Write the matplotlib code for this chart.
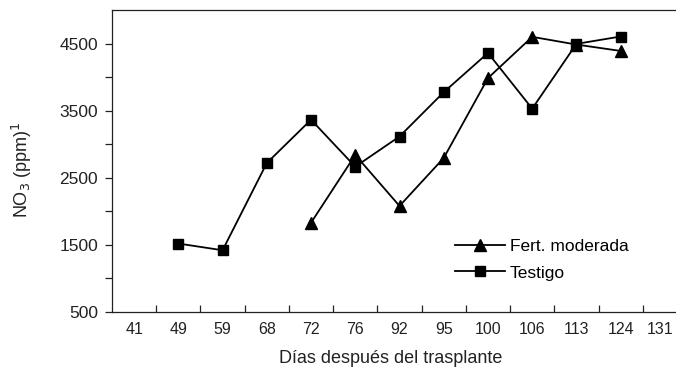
import numpy as np
import matplotlib
matplotlib.use('Agg')
import matplotlib.pyplot as plt
import matplotlib.transforms as mtransforms

plt.rcParams['font.family'] = ['Liberation Sans', 'DejaVu Sans']

# categories on the x axis (days after transplant)
days = ['41', '49', '59', '68', '72', '76', '92', '95', '100', '106', '113', '124', '131']

# NO3 values (None = no point)
testigo = [None, 1520, 1420, 2720, 3365, 2665, 3115, 3775, 4360, 3530, 4495, 4605, None]
fert_moderada = [None, None, None, None, 1830, 2840, 2080, 2795, 3985, 4600, 4485, 4390, None]

ink = '#222222'

def to_array(vals):
    return np.array([np.nan if v is None else v for v in vals], dtype=float)

fig = plt.figure(figsize=(6.76, 3.70), dpi=100)
# right edge of the axes runs past the figure, as in the original
ax = fig.add_axes([112 / 676, 58 / 370, 575 / 676, 302 / 370])

x = np.arange(len(days))
ax.plot(x, to_array(fert_moderada), color='black', lw=1.3, marker='^', ms=8,
        label='Fert. moderada')
ax.plot(x, to_array(testigo), color='black', lw=1.3, marker='s', ms=7,
        label='Testigo')

ax.set_xlim(-0.5, len(days) - 0.5)
ax.set_ylim(500, 5000)

# x: ticks between categories, labels at category centres
ax.set_xticks(np.arange(0.5, len(days) - 1, 1.0))
ax.set_xticklabels([])
ax.set_xticks(x, minor=True)
ax.set_xticklabels(days, minor=True)
ax.tick_params(axis='x', which='major', direction='in', length=5, width=0.9, color=ink)
ax.tick_params(axis='x', which='minor', length=0, pad=7, labelsize=11.5, labelcolor=ink)
# last label sits at the figure edge; nudge it left so it stays whole
last = ax.get_xticklabels(minor=True)[-1]
last.set_transform(last.get_transform() +
                   mtransforms.ScaledTranslation(-5 / 100, 0, fig.dpi_scale_trans))

# y: labelled every 1000, unlabelled ticks between
ax.set_yticks(np.arange(500, 4501, 1000))
ax.set_yticks(np.arange(1000, 4501, 1000), minor=True)
ax.tick_params(axis='y', which='both', direction='out', length=5, width=0.9, color=ink,
               labelsize=12.5, labelcolor=ink, pad=5)

for side in ['left', 'bottom', 'top']:
    ax.spines[side].set_color(ink)
    ax.spines[side].set_linewidth(0.9)
ax.spines['right'].set_visible(False)

ax.set_xlabel('Días después del trasplante', fontsize=13, color=ink)
ax.xaxis.set_label_coords(0.485, -0.125)
ax.set_ylabel('NO$_3$ (ppm)$^1$', fontsize=13, color=ink)
ax.yaxis.set_label_coords(-0.135, 0.47)

ax.legend(loc='upper left', bbox_to_anchor=(448 / 676, 1 - 232 / 370),
          bbox_transform=fig.transFigure, frameon=False, fontsize=12.5,
          handlelength=2.9, handletextpad=0.25, labelspacing=0.65, borderaxespad=0)

fig.savefig('out.png', dpi=100)
